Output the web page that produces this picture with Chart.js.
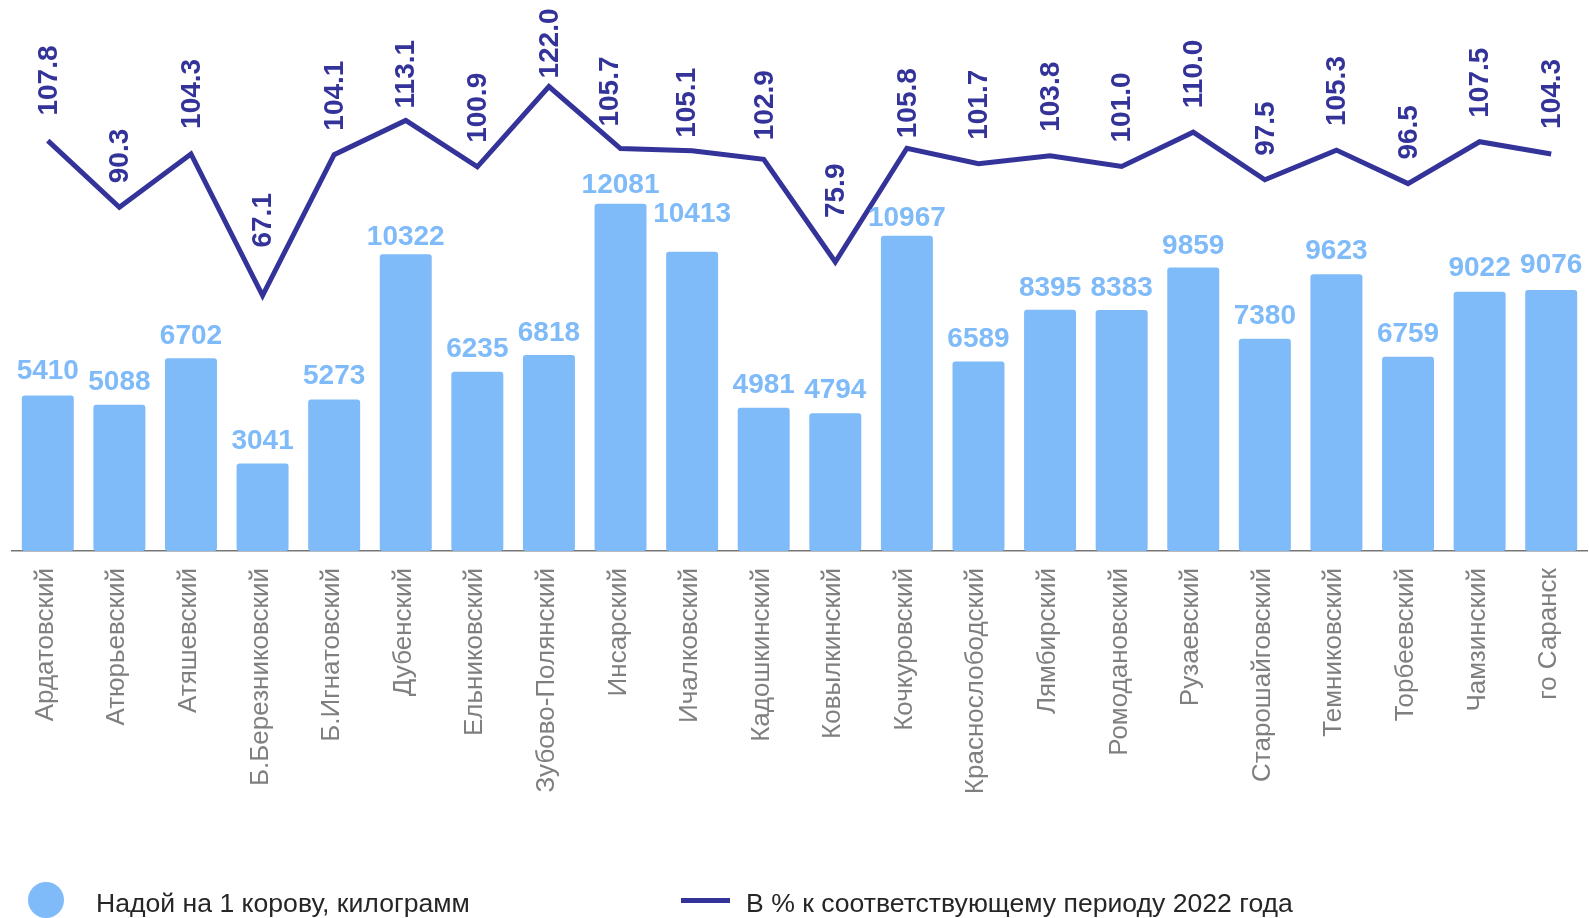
<!DOCTYPE html>
<html lang="ru">
<head>
<meta charset="utf-8">
<title>Надой на 1 корову</title>
<script src="https://cdn.jsdelivr.net/npm/chart.js@4.4.1/dist/chart.umd.min.js"></script>
<style>
    html, body { margin: 0; padding: 0; background: #ffffff; overflow: hidden; }
    #wrap { position: relative; width: 1589px; height: 918px; }
    #chart { position: absolute; left: 0; top: 0; }
    .legendMark { position: absolute; }
    .legendText {
        position: absolute;
        font-family: 'Liberation Sans', Arial, sans-serif;
        font-size: 26.6px;
        line-height: 26px;
        color: #262626;
        white-space: nowrap;
    }
</style>
</head>
<body>
<div id="wrap">
    <canvas id="chart" width="1589" height="918"></canvas>
    <div class="legendMark" style="left:28px; top:882px; width:36px; height:36px; border-radius:50%; background:#7fbaf9;"></div>
    <div class="legendText" id="legendBars" style="left:96px; top:890px;"></div>
    <div class="legendMark" style="left:681px; top:898px; width:49px; height:5px; background:#333399;"></div>
    <div class="legendText" id="legendLine" style="left:746px; top:890px;"></div>
</div>
<script>
// Data -----------------------------------------------------------------------
var districts = ['Ардатовский', 'Атюрьевский', 'Атяшевский', 'Б.Березниковский', 'Б.Игнатовский',
    'Дубенский', 'Ельниковский', 'Зубово-Полянский', 'Инсарский', 'Ичалковский', 'Кадошкинский',
    'Ковылкинский', 'Кочкуровский', 'Краснослободский', 'Лямбирский', 'Ромодановский', 'Рузаевский',
    'Старошайговский', 'Темниковский', 'Торбеевский', 'Чамзинский', 'го Саранск'];
var milkYield = [5410, 5088, 6702, 3041, 5273, 10322, 6235, 6818, 12081, 10413, 4981,
    4794, 10967, 6589, 8395, 8383, 9859, 7380, 9623, 6759, 9022, 9076];
var percentPrev = [107.8, 90.3, 104.3, 67.1, 104.1, 113.1, 100.9, 122.0, 105.7, 105.1, 102.9,
    75.9, 105.8, 101.7, 103.8, 101.0, 110.0, 97.5, 105.3, 96.5, 107.5, 104.3];
var seriesNames = ['Надой на 1 корову, килограмм', 'В % к соответствующему периоду 2022 года'];

// Styles ---------------------------------------------------------------------
var colors = Array('#7fbaf9', '#333399', '#7f7f7f', '#767676');
// label offsets (px above the mark), hand placed like in the source chart
var barLabelGap = [16, 15, 14, 15, 15, 9, 15, 14, 11, 30, 15, 15, 10, 15, 14, 14, 14, 15, 15, 15, 16, 17];
var lineLabelGap = [25, 24, 25, 48, 24, 12, 24, 8, 22, 13, 19, 44, 10, 24, 24, 24, 24, 24, 24, 24, 24, 25];
var lineLabelDx = [1, 1, 1, 1, 1, 1, 1, 1, -10, -5, 2, 1, 1, 1, 1, 1, 1, 1, 1, 1, 1, 1];

document.getElementById('legendBars').innerText = seriesNames[0];
document.getElementById('legendLine').innerText = seriesNames[1];

// Labels plugin --------------------------------------------------------------
const labelsPlugin = {
    id: 'labelsPlugin',
    afterDatasetsDraw: function(chart) {
        var ctx = chart.ctx;
        var barMeta = chart.getDatasetMeta(0);
        var lineMeta = chart.getDatasetMeta(1);
        var xScale = chart.scales.x;

        ctx.save();
        ctx.font = 'bold 28px "Liberation Sans", Arial, sans-serif';
        ctx.fillStyle = colors[0];
        ctx.textAlign = 'center';
        ctx.textBaseline = 'alphabetic';
        barMeta.data.forEach(function(el, i) {
            ctx.fillText(String(milkYield[i]), el.x, el.y - barLabelGap[i]);
        });

        ctx.fillStyle = colors[1];
        ctx.textAlign = 'left';
        ctx.textBaseline = 'middle';
        lineMeta.data.forEach(function(el, i) {
            ctx.save();
            ctx.translate(el.x + lineLabelDx[i], el.y - lineLabelGap[i]);
            ctx.rotate(-Math.PI / 2);
            ctx.fillText(percentPrev[i].toFixed(1), 0, 0);
            ctx.restore();
        });

        // category labels, rotated, end of text next to the axis
        ctx.font = '26px "Liberation Sans", Arial, sans-serif';
        ctx.fillStyle = colors[2];
        ctx.textAlign = 'right';
        ctx.textBaseline = 'alphabetic';
        districts.forEach(function(name, i) {
            ctx.save();
            ctx.translate(xScale.getPixelForValue(i), chart.chartArea.bottom + 17);
            ctx.rotate(-Math.PI / 2);
            ctx.fillText(name, 0, 5);
            ctx.restore();
        });
        ctx.restore();
    }
};

// Chart ----------------------------------------------------------------------
const ctx_chart = document.getElementById('chart').getContext('2d');
const chartYield = new Chart(ctx_chart, {
    type: 'bar',
    data: {
        labels: districts,
        datasets: [{
            label: seriesNames[0],
            data: milkYield,
            backgroundColor: colors[0],
            borderRadius: 3,
            borderSkipped: false,
            barPercentage: 0.726,
            categoryPercentage: 1.0,
            yAxisID: 'y',
            order: 2
        }, {
            type: 'line',
            label: seriesNames[1],
            data: percentPrev,
            borderColor: colors[1],
            borderWidth: 5,
            borderJoinStyle: 'miter',
            pointRadius: 0,
            tension: 0,
            fill: false,
            yAxisID: 'y1',
            order: 1
        }]
    },
    options: {
        responsive: false,
        animation: false,
        layout: {
            padding: { left: 12, right: 2, top: 18, bottom: 0 }
        },
        plugins: {
            legend: { display: false },
            tooltip: { enabled: false }
        },
        scales: {
            x: {
                grid: { display: false, drawTicks: false },
                border: { display: true, color: colors[3], width: 1.5 },
                ticks: { display: false },
                afterFit: function(scale) {
                    scale.height = 918 - 551;
                }
            },
            y: {
                display: false,
                min: 0,
                max: 18540
            },
            y1: {
                display: false,
                min: 0,
                max: 140
            }
        }
    },
    plugins: [labelsPlugin]
});
</script>
</body>
</html>
